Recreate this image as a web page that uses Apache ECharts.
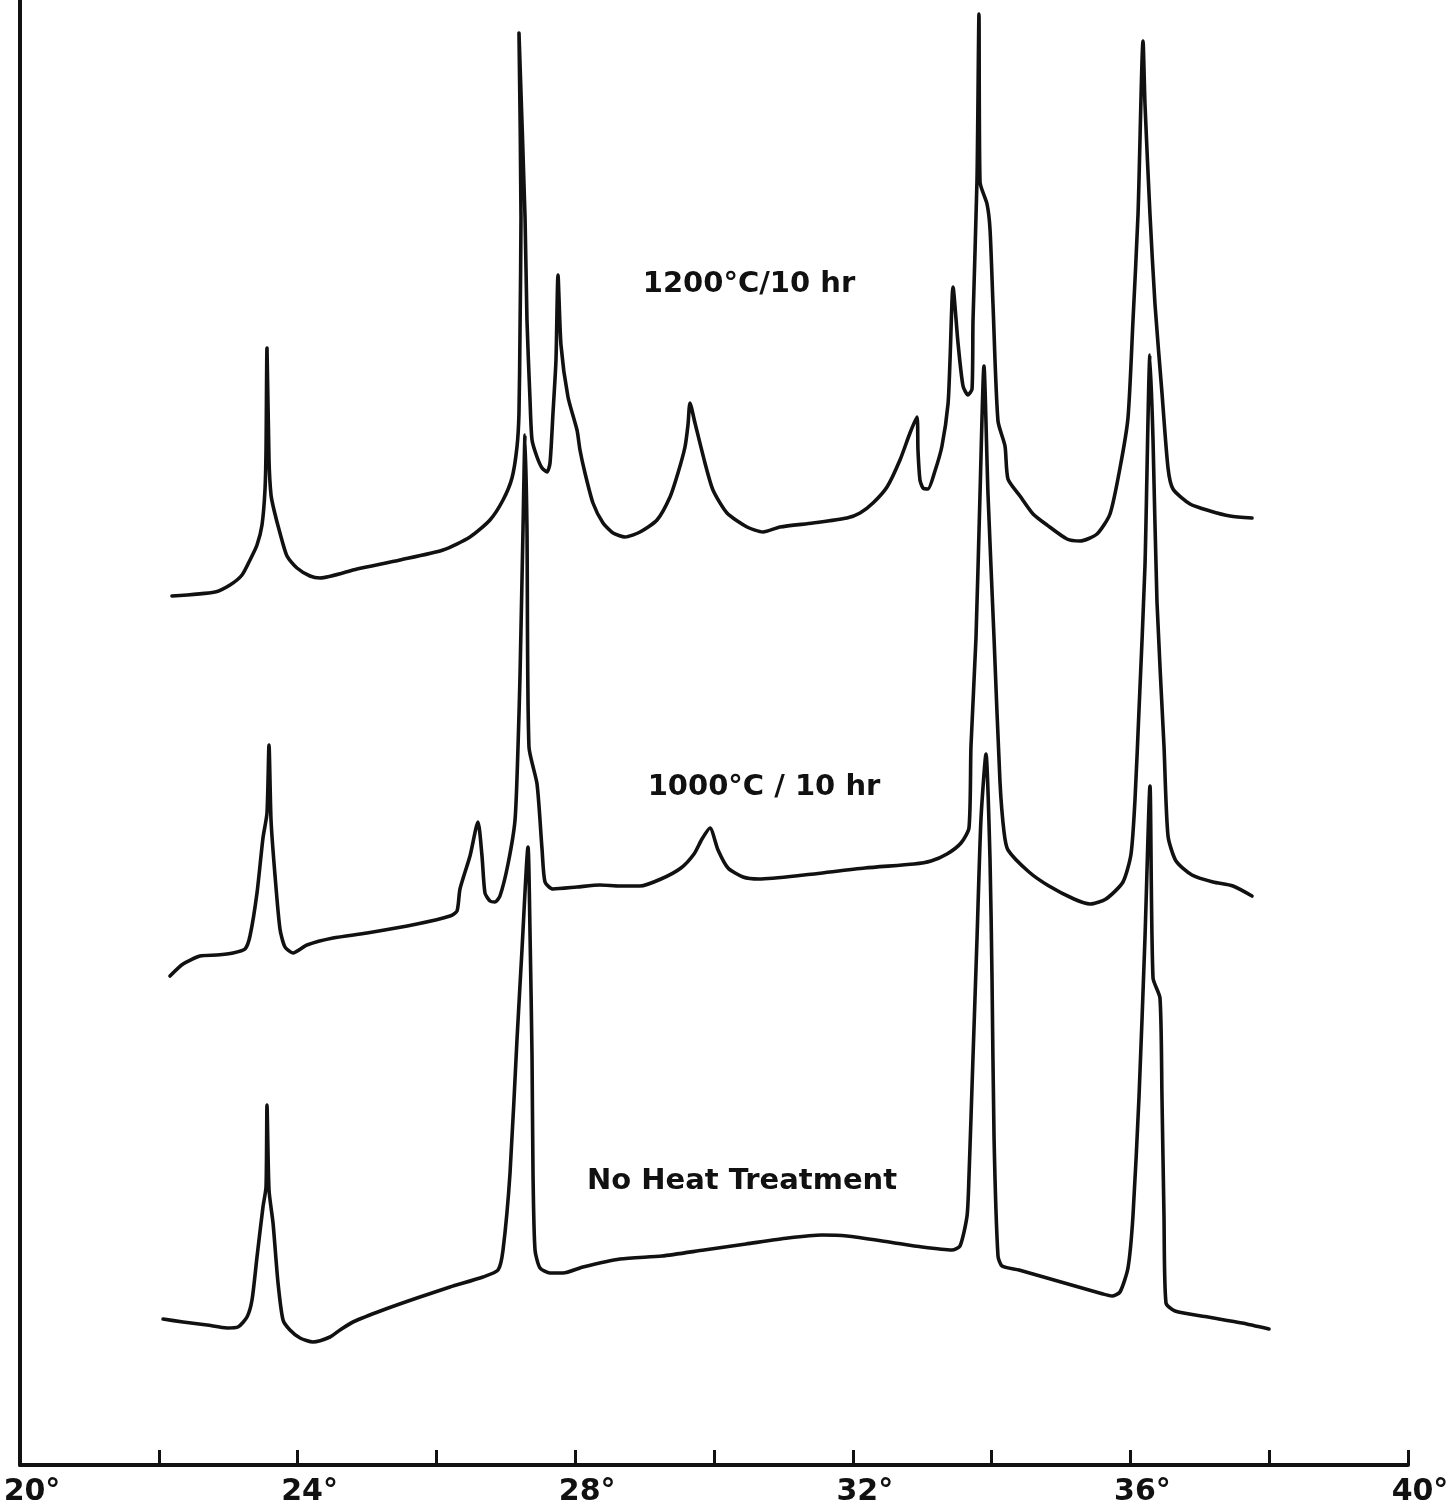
<!DOCTYPE html>
<html>
<head>
<meta charset="utf-8">
<title>X-ray diffraction patterns after heat treatment</title>
<script src="https://cdn.jsdelivr.net/npm/echarts@6/dist/echarts.min.js"></script>
<style>
  html, body { margin: 0; padding: 0; background: #ffffff; }
  #chart { width: 1453px; height: 1510px; }
</style>
</head>
<body>
<div id="chart"></div>
<script>
// Diffractometer traces: [2-theta (deg), recorder intensity (arbitrary units)].
// The three traces are stacked with their own baselines on one intensity scale.
const pattern1200 = [
  [22.190, 86.9], [22.810, 87.3], [23.026, 88.0], [23.199, 89.0], [23.314, 90.5],
  [23.415, 92.0], [23.487, 94.0], [23.530, 97.5], [23.545, 101.5], [23.559, 111.7],
  [23.588, 100.5], [23.617, 97.0], [23.660, 95.5], [23.746, 93.2], [23.847, 90.9],
  [23.991, 89.7], [24.179, 88.9], [24.323, 88.7], [24.856, 89.6], [25.476, 90.5],
  [26.095, 91.5], [26.484, 92.8], [26.772, 94.5], [26.960, 96.5], [27.089, 98.7],
  [27.161, 101.8], [27.190, 105.2], [27.205, 113.5], [27.219, 124.8], [27.190, 143.2],
  [27.277, 124.8], [27.305, 114.5], [27.349, 106.5], [27.378, 102.5], [27.450, 100.8],
  [27.522, 99.7], [27.594, 99.3], [27.637, 100.2], [27.680, 105.2], [27.723, 110.5],
  [27.752, 119.0], [27.795, 112.0], [27.896, 106.8], [28.026, 103.5], [28.069, 101.5],
  [28.141, 99.2], [28.256, 96.2], [28.401, 94.2], [28.545, 93.2], [28.718, 92.8],
  [28.934, 93.3], [29.179, 94.5], [29.366, 96.8], [29.481, 99.2], [29.582, 101.8],
  [29.625, 104.0], [29.654, 106.2], [29.726, 104.2], [29.870, 100.2], [29.985, 97.5],
  [30.187, 95.2], [30.476, 93.8], [30.706, 93.3], [30.951, 93.8], [31.426, 94.2],
  [31.916, 94.7], [32.104, 95.2], [32.291, 96.2], [32.493, 97.8], [32.680, 100.5],
  [32.824, 103.2], [32.925, 104.8], [32.939, 101.5], [32.968, 98.5], [33.011, 97.7],
  [33.083, 97.6], [33.184, 99.4], [33.285, 101.9], [33.372, 106.1], [33.401, 110.5],
  [33.444, 117.8], [33.516, 112.2], [33.588, 107.9], [33.660, 107.0], [33.718, 107.6],
  [33.732, 114.4], [33.790, 128.6], [33.818, 145.1], [33.833, 128.3], [33.934, 126.1],
  [33.977, 123.6], [34.020, 116.1], [34.092, 104.4], [34.193, 101.9], [34.236, 98.6],
  [34.409, 96.9], [34.597, 95.1], [34.798, 94.0], [35.086, 92.6], [35.274, 92.4],
  [35.519, 93.1], [35.706, 95.1], [35.850, 99.7], [35.965, 104.7], [36.037, 114.4],
  [36.110, 125.1], [36.182, 142.4], [36.210, 136.1], [36.282, 125.1], [36.354, 116.1],
  [36.455, 107.2], [36.542, 99.7], [36.614, 97.6], [36.859, 96.1], [37.147, 95.4],
  [37.435, 94.9], [37.752, 94.7]
];

const pattern1000 = [
  [22.161, 48.9], [22.349, 50.1], [22.594, 50.9], [22.839, 51.0], [23.069, 51.2],
  [23.242, 51.6], [23.314, 52.9], [23.415, 57.2], [23.501, 62.7], [23.559, 65.2],
  [23.588, 72.0], [23.617, 64.5], [23.674, 59.0], [23.746, 53.6], [23.818, 51.8],
  [23.934, 51.2], [24.135, 52.0], [24.510, 52.7], [25.000, 53.2], [25.720, 54.1],
  [26.196, 54.9], [26.297, 55.4], [26.340, 57.6], [26.484, 60.9], [26.599, 64.3],
  [26.657, 60.9], [26.700, 57.2], [26.772, 56.4], [26.844, 56.3], [26.916, 56.9],
  [27.032, 60.1], [27.133, 64.5], [27.176, 71.8], [27.205, 79.0], [27.248, 93.6],
  [27.277, 103.0], [27.305, 93.6], [27.334, 71.8], [27.450, 68.1], [27.522, 61.6],
  [27.565, 58.3], [27.680, 57.6], [28.026, 57.8], [28.357, 58.0], [28.646, 57.9],
  [28.934, 57.9], [29.236, 58.6], [29.524, 59.7], [29.712, 61.1], [29.827, 62.6],
  [29.942, 63.7], [30.058, 61.5], [30.202, 59.7], [30.418, 58.8], [30.648, 58.6],
  [31.297, 59.0], [32.176, 59.7], [32.882, 60.1], [33.127, 60.4], [33.357, 61.1],
  [33.559, 62.2], [33.674, 63.7], [33.703, 71.9], [33.775, 82.7], [33.833, 97.1],
  [33.890, 109.9], [33.948, 97.1], [34.035, 82.7], [34.121, 68.3], [34.179, 63.3],
  [34.236, 61.5], [34.539, 59.3], [34.827, 57.9], [35.187, 56.6], [35.418, 56.1],
  [35.648, 56.6], [35.893, 58.3], [36.009, 61.1], [36.066, 66.5], [36.124, 75.5],
  [36.210, 89.9], [36.282, 111.0], [36.326, 102.5], [36.383, 86.3], [36.484, 71.9],
  [36.542, 62.9], [36.657, 60.4], [36.887, 59.0], [37.190, 58.3], [37.478, 57.9],
  [37.752, 56.9]
];

const patternUntreated = [
  [22.061, 14.6], [22.349, 14.3], [22.695, 14.0], [22.983, 13.7], [23.141, 13.8],
  [23.271, 14.8], [23.343, 16.5], [23.415, 20.8], [23.501, 25.8], [23.545, 27.8],
  [23.559, 36.0], [23.588, 27.5], [23.646, 24.2], [23.718, 18.2], [23.790, 14.5],
  [23.890, 13.5], [24.035, 12.7], [24.222, 12.3], [24.467, 12.8], [24.611, 13.5],
  [24.798, 14.3], [25.231, 15.5], [25.720, 16.7], [26.196, 17.8], [26.671, 18.8],
  [26.888, 19.5], [26.960, 21.5], [27.061, 29.2], [27.161, 42.5], [27.233, 51.5],
  [27.320, 61.8], [27.349, 53.2], [27.378, 40.8], [27.392, 29.2], [27.421, 21.5],
  [27.493, 19.7], [27.637, 19.2], [27.824, 19.2], [28.112, 19.8], [28.646, 20.6],
  [29.251, 20.9], [29.856, 21.5], [30.461, 22.1], [31.066, 22.7], [31.556, 23.0],
  [31.916, 22.9], [32.522, 22.3], [32.997, 21.8], [33.429, 21.5], [33.545, 21.9],
  [33.646, 24.9], [33.674, 28.8], [33.732, 40.8], [33.790, 52.7], [33.847, 64.6],
  [33.919, 71.1], [33.977, 60.6], [34.006, 48.7], [34.035, 32.8], [34.092, 20.9],
  [34.150, 19.9], [34.395, 19.5], [35.000, 18.3], [35.605, 17.1], [35.735, 16.9],
  [35.850, 17.3], [35.965, 19.7], [36.037, 24.9], [36.124, 36.8], [36.210, 52.7],
  [36.282, 67.9], [36.326, 48.7], [36.426, 46.7], [36.455, 36.8], [36.484, 24.9],
  [36.513, 16.2], [36.643, 15.4], [37.118, 14.8], [37.608, 14.2], [37.997, 13.6]
];

// Trace captions
const traceNames = ['1200°C/10 hr', '1000°C / 10 hr', 'No Heat Treatment'];

// 2-theta axis: ticks every 2°, labelled every 4°
const thetaMin = 20;
const thetaMax = 40;
const thetaStep = 2;
const labelledTheta = [20, 24, 28, 32, 36, 40];

const chart = echarts.init(document.getElementById('chart'), null, { renderer: 'canvas' });

const ink = '#111111';
const traceStyle = { color: ink, width: 3.6, join: 'round', cap: 'round' };

function traceSeries(name, data) {
  return {
    name: name,
    type: 'line',
    data: data,
    showSymbol: false,
    symbol: 'none',
    smooth: 0.22,
    lineStyle: traceStyle,
    emphasis: { disabled: true },
    clip: false,
    z: 3
  };
}

const captionFont = 'bold 29px "DejaVu Sans", sans-serif';

chart.setOption({
  animation: false,
  backgroundColor: '#ffffff',
  grid: { left: 20, right: 45, top: 0, bottom: 45, containLabel: false },
  xAxis: {
    type: 'value',
    min: thetaMin,
    max: thetaMax,
    interval: thetaStep,
    axisLine: { show: true, onZero: false, lineStyle: { color: ink, width: 4 } },
    axisTick: { show: true, inside: true, length: 15, lineStyle: { color: ink, width: 3 } },
    splitLine: { show: false },
    axisLabel: {
      show: true,
      margin: 12,
      color: ink,
      fontFamily: '"DejaVu Sans", sans-serif',
      fontWeight: 'bold',
      fontSize: 30,
      padding: [0, 0, 0, 24],
      showMinLabel: true,
      showMaxLabel: true,
      formatter: function (v) {
        return labelledTheta.indexOf(Math.round(v)) >= 0 ? Math.round(v) + '°' : '';
      }
    }
  },
  yAxis: {
    type: 'value',
    min: 0,
    max: 146.5,
    axisLine: { show: true, onZero: false, lineStyle: { color: ink, width: 4 } },
    axisTick: { show: false },
    axisLabel: { show: false },
    splitLine: { show: false }
  },
  series: [
    traceSeries(traceNames[0], pattern1200),
    traceSeries(traceNames[1], pattern1000),
    traceSeries(traceNames[2], patternUntreated)
  ],
  graphic: [
    { type: 'text', x: 749, y: 284, style: { text: traceNames[0], font: captionFont, fill: ink, textAlign: 'center', textVerticalAlign: 'middle' } },
    { type: 'text', x: 764, y: 787, style: { text: traceNames[1], font: captionFont, fill: ink, textAlign: 'center', textVerticalAlign: 'middle' } },
    { type: 'text', x: 742, y: 1181, style: { text: traceNames[2], font: captionFont, fill: ink, textAlign: 'center', textVerticalAlign: 'middle' } }
  ]
});
</script>
</body>
</html>
